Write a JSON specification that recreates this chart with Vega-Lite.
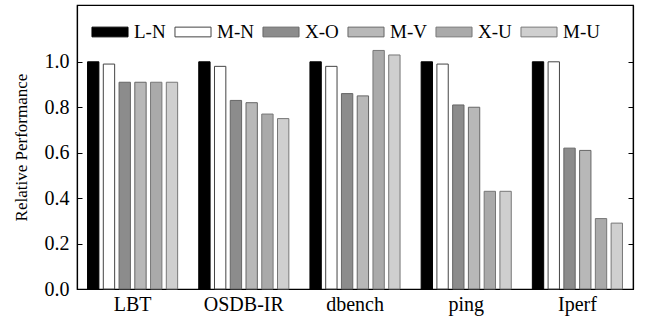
{
  "$schema": "https://vega.github.io/schema/vega-lite/v6.json",
  "width": 556,
  "height": 284,
  "autosize": "none",
  "padding": {"left": 77, "top": 5, "right": 17, "bottom": 33},
  "background": "white",
  "config": {
    "font": "Liberation Serif",
    "view": {"stroke": "black", "strokeWidth": 1.2},
    "axis": {"grid": false, "domainColor": "black", "tickColor": "black", "labelColor": "black", "titleColor": "black", "labelFont": "Liberation Serif", "titleFont": "Liberation Serif"}
  },
  "data": {
    "values": [
      {"bench": "LBT", "cfg": "L-N", "v": 1.0},
      {"bench": "LBT", "cfg": "M-N", "v": 0.99},
      {"bench": "LBT", "cfg": "X-O", "v": 0.91},
      {"bench": "LBT", "cfg": "M-V", "v": 0.91},
      {"bench": "LBT", "cfg": "X-U", "v": 0.91},
      {"bench": "LBT", "cfg": "M-U", "v": 0.91},
      {"bench": "OSDB-IR", "cfg": "L-N", "v": 1.0},
      {"bench": "OSDB-IR", "cfg": "M-N", "v": 0.98},
      {"bench": "OSDB-IR", "cfg": "X-O", "v": 0.83},
      {"bench": "OSDB-IR", "cfg": "M-V", "v": 0.82},
      {"bench": "OSDB-IR", "cfg": "X-U", "v": 0.77},
      {"bench": "OSDB-IR", "cfg": "M-U", "v": 0.75},
      {"bench": "dbench", "cfg": "L-N", "v": 1.0},
      {"bench": "dbench", "cfg": "M-N", "v": 0.98},
      {"bench": "dbench", "cfg": "X-O", "v": 0.86},
      {"bench": "dbench", "cfg": "M-V", "v": 0.85},
      {"bench": "dbench", "cfg": "X-U", "v": 1.05},
      {"bench": "dbench", "cfg": "M-U", "v": 1.03},
      {"bench": "ping", "cfg": "L-N", "v": 1.0},
      {"bench": "ping", "cfg": "M-N", "v": 0.99},
      {"bench": "ping", "cfg": "X-O", "v": 0.81},
      {"bench": "ping", "cfg": "M-V", "v": 0.80},
      {"bench": "ping", "cfg": "X-U", "v": 0.43},
      {"bench": "ping", "cfg": "M-U", "v": 0.43},
      {"bench": "Iperf", "cfg": "L-N", "v": 1.0},
      {"bench": "Iperf", "cfg": "M-N", "v": 1.0},
      {"bench": "Iperf", "cfg": "X-O", "v": 0.62},
      {"bench": "Iperf", "cfg": "M-V", "v": 0.61},
      {"bench": "Iperf", "cfg": "X-U", "v": 0.31},
      {"bench": "Iperf", "cfg": "M-U", "v": 0.29}
    ]
  },
  "encoding": {
    "x": {
      "field": "bench", "type": "nominal", "sort": null,
      "scale": {"paddingInner": 0.15, "paddingOuter": 0.075},
      "axis": {"title": null, "labelAngle": 0, "ticks": false, "labelFontSize": 20, "labelPadding": 5, "domainWidth": 1.2}
    },
    "xOffset": {
      "field": "cfg", "type": "nominal", "sort": null,
      "scale": {"paddingInner": 0.28, "paddingOuter": 0.14}
    },
    "y": {
      "field": "v", "type": "quantitative",
      "scale": {"domain": [0, 1.25], "nice": false}
    }
  },
  "resolve": {"axis": {"y": "independent"}},
  "layer": [
    {
      "mark": {"type": "bar", "strokeWidth": 1},
      "encoding": {
        "y": {
          "field": "v", "type": "quantitative",
          "scale": {"domain": [0, 1.25], "nice": false},
          "axis": {"title": "Relative Performance", "titleFontSize": 17, "titleFontWeight": "normal", "titlePadding": 14, "values": [0, 0.2, 0.4, 0.6, 0.8, 1.0], "format": ".1f", "labelFontSize": 20, "tickSize": -5, "labelPadding": 13, "domainWidth": 1.2}
        },
        "fill": {
          "field": "cfg", "type": "nominal", "sort": null,
          "scale": {"domain": ["L-N", "M-N", "X-O", "M-V", "X-U", "M-U"], "range": ["#000000", "#ffffff", "#8c8c8c", "#b8b8b8", "#aaaaaa", "#cfcfcf"]},
          "legend": {
            "title": null, "orient": "none", "legendX": 14, "legendY": 8, "direction": "horizontal",
            "symbolType": "M-1,-0.27H1V0.27H-1Z", "symbolSize": 1300, "symbolStrokeColor": "#555", "symbolStrokeWidth": 1,
            "labelFontSize": 19, "labelFont": "Liberation Serif", "labelColor": "black", "labelOffset": 5, "columnPadding": 6
          }
        },
        "stroke": {
          "field": "cfg", "type": "nominal", "sort": null,
          "scale": {"domain": ["L-N", "M-N", "X-O", "M-V", "X-U", "M-U"], "range": ["#000000", "#444444", "#666666", "#666666", "#777777", "#777777"]},
          "legend": null
        }
      }
    },
    {
      "mark": {"type": "bar", "fillOpacity": 0, "strokeOpacity": 0},
      "encoding": {
        "y": {
          "field": "v", "type": "quantitative",
          "scale": {"domain": [0, 1.25], "nice": false},
          "axis": {"orient": "right", "title": null, "labels": false, "values": [0, 0.2, 0.4, 0.6, 0.8, 1.0], "tickSize": -5, "domainWidth": 1.2}
        }
      }
    }
  ]
}
